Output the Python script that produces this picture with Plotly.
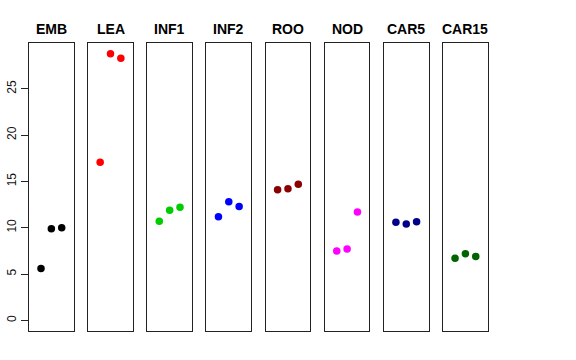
import plotly.graph_objects as go

categories = ["EMB", "LEA", "INF1", "INF2", "ROO", "NOD", "CAR5", "CAR15"]
values = {
    "EMB": [5.6, 9.9, 10.0],
    "LEA": [17.06, 28.8, 28.3],
    "INF1": [10.7, 11.9, 12.2],
    "INF2": [11.2, 12.8, 12.3],
    "ROO": [14.1, 14.2, 14.7],
    "NOD": [7.5, 7.7, 11.7],
    "CAR5": [10.6, 10.4, 10.65],
    "CAR15": [6.7, 7.2, 6.9],
}
colors = ["#000000", "#FF0000", "#00CD00", "#0000FF", "#8B0000", "#FF00FF", "#00008B", "#006400"]
replicates = [1, 2, 3]
y_ticks = [0, 5, 10, 15, 20, 25]

W, H = 576, 360
ml, mt = 29, 43
pw, ph = 459, 288
mr = W - ml - pw
mb = H - mt - ph
panel_w = 44.7
step = 59.15

ymin, ymax = 0, 28.8
pad = (ymax - ymin) * 0.04
yr = [ymin - pad, ymax + pad]
xr = [1 - 1.16, 3 + 1.16]

fig = go.Figure()
annotations = []
for i, cat in enumerate(categories):
    n = "" if i == 0 else str(i + 1)
    fig.add_trace(go.Scatter(
        x=replicates, y=values[cat], mode="markers",
        marker=dict(color=colors[i], size=7.5, line=dict(width=0)),
        xaxis="x" + n, yaxis="y" + n, showlegend=False,
    ))
    x0 = (i * step) / pw
    x1 = (i * step + panel_w) / pw
    xa = dict(domain=[x0, min(x1, 1)], range=xr, showgrid=False, zeroline=False,
              showticklabels=False, ticks="", showline=True, mirror=True,
              linecolor="#222", linewidth=1, anchor="y" + n, fixedrange=True)
    ya = dict(domain=[0, 1], range=yr, showgrid=False, zeroline=False,
              showline=True, mirror=True, linecolor="#222", linewidth=1,
              anchor="x" + n, fixedrange=True)
    if i == 0:
        ya.update(tickvals=y_ticks, ticks="outside", ticklen=7, tickcolor="#222",
                  tickangle=-90, tickfont=dict(family="Liberation Sans, Arial", size=12, color="#111"),
                  showticklabels=True)
    else:
        ya.update(showticklabels=False, ticks="")
    fig.layout["xaxis" + n] = xa
    fig.layout["yaxis" + n] = ya
    annotations.append(dict(
        text="<b>" + cat + "</b>", x=(x0 + x1) / 2, xref="paper", y=1 + 14 / ph,
        yref="paper", showarrow=False, xanchor="center", yanchor="middle",
        font=dict(family="Liberation Sans, Arial", size=14, color="#000"),
    ))

fig.update_layout(
    width=W, height=H, margin=dict(l=ml, r=mr, t=mt, b=mb, autoexpand=False),
    paper_bgcolor="white", plot_bgcolor="white", annotations=annotations,
    hovermode=False,
)
fig.write_html("out.html", post_script="document.body.style.margin='0';",
               config={"displayModeBar": False, "staticPlot": True})
